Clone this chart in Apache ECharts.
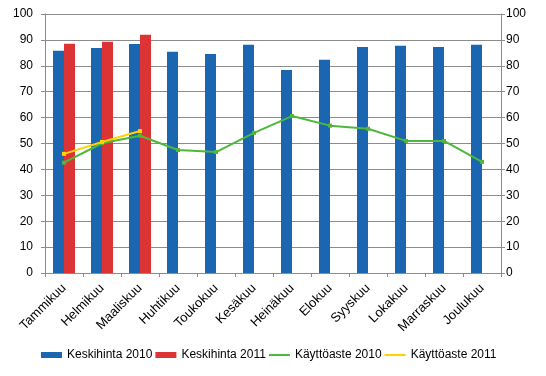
<!DOCTYPE html>
<html>
<head>
<meta charset="utf-8">
<script src="https://cdn.jsdelivr.net/npm/echarts@6/dist/echarts.min.js"></script>
<style>
  html, body { margin: 0; padding: 0; background: #fff; }
  #chart { width: 546px; height: 376px; }
</style>
</head>
<body>
<div id="chart"></div>
<script>
const months = ['Tammikuu', 'Helmikuu', 'Maaliskuu', 'Huhtikuu', 'Toukokuu', 'Kesäkuu',
  'Heinäkuu', 'Elokuu', 'Syyskuu', 'Lokakuu', 'Marraskuu', 'Joulukuu']
const price2010 = [85.8, 86.9, 88.4, 85.4, 84.6, 88.1, 78.4, 82.3, 87.3, 87.7, 87.3, 88.1]
const price2011 = [88.5, 89.3, 92.0, null, null, null, null, null, null, null, null, null]
const usage2010 = [42.6, 50.1, 53.0, 47.5, 46.7, 54.1, 60.6, 56.9, 55.7, 51.0, 51.0, 42.9]
const usage2011 = [46.0, 50.6, 54.8, null, null, null, null, null, null, null, null, null]

const font = 'Liberation Sans, Arial, sans-serif'
const gridColor = '#8c8c8c'

const yAxisCommon = {
  type: 'value',
  min: 0,
  max: 100,
  interval: 10,
  axisLine: { show: true, lineStyle: { color: gridColor } },
  axisTick: { show: true, length: 4, lineStyle: { color: gridColor } },
  axisLabel: { color: '#000', fontFamily: font, fontSize: 12 },
  splitLine: { lineStyle: { color: gridColor, width: 1 } }
}

const chart = echarts.init(document.getElementById('chart'))
chart.setOption({
  animation: false,
  grid: { left: 45, right: 45, top: 14, bottom: 103 },
  legend: {
    bottom: 10,
    left: 36,
    itemWidth: 21,
    itemHeight: 6,
    itemGap: 3,
    textStyle: { color: '#000', fontFamily: font, fontSize: 12 },
    data: [
      { name: 'Keskihinta 2010', icon: 'rect' },
      { name: 'Keskihinta 2011', icon: 'rect' },
      { name: 'Käyttöaste 2010', icon: 'path://M0,0 L10,0 L10,1 L0,1 Z' },
      { name: 'Käyttöaste 2011', icon: 'path://M0,0 L10,0 L10,1 L0,1 Z' }
    ]
  },
  xAxis: {
    type: 'category',
    data: months,
    axisLine: { lineStyle: { color: gridColor } },
    axisTick: { show: true, length: 4, lineStyle: { color: gridColor } },
    axisLabel: { color: '#000', fontFamily: font, fontSize: 13, rotate: 45, interval: 0, margin: 13 }
  },
  yAxis: [
    Object.assign({}, yAxisCommon, {
      position: 'left',
      axisLabel: Object.assign({}, yAxisCommon.axisLabel, { margin: 12 })
    }),
    Object.assign({}, yAxisCommon, {
      position: 'right',
      splitLine: { show: false },
      axisLabel: Object.assign({}, yAxisCommon.axisLabel, { margin: 5 })
    })
  ],
  series: [
    {
      name: 'Keskihinta 2010',
      type: 'bar',
      data: price2010,
      barWidth: 11,
      barGap: '0%',
      itemStyle: { color: '#1a66b0' }
    },
    {
      name: 'Keskihinta 2011',
      type: 'bar',
      data: price2011,
      barWidth: 11,
      barGap: '0%',
      itemStyle: { color: '#dc3434' }
    },
    {
      name: 'Käyttöaste 2010',
      type: 'line',
      yAxisIndex: 1,
      data: usage2010,
      symbol: 'rect',
      symbolSize: 4,
      lineStyle: { color: '#4db83c', width: 2 },
      itemStyle: { color: '#4db83c' }
    },
    {
      name: 'Käyttöaste 2011',
      type: 'line',
      yAxisIndex: 1,
      data: usage2011,
      symbol: 'rect',
      symbolSize: 4,
      lineStyle: { color: '#ffd200', width: 2 },
      itemStyle: { color: '#ffd200' }
    }
  ]
})
</script>
</body>
</html>
